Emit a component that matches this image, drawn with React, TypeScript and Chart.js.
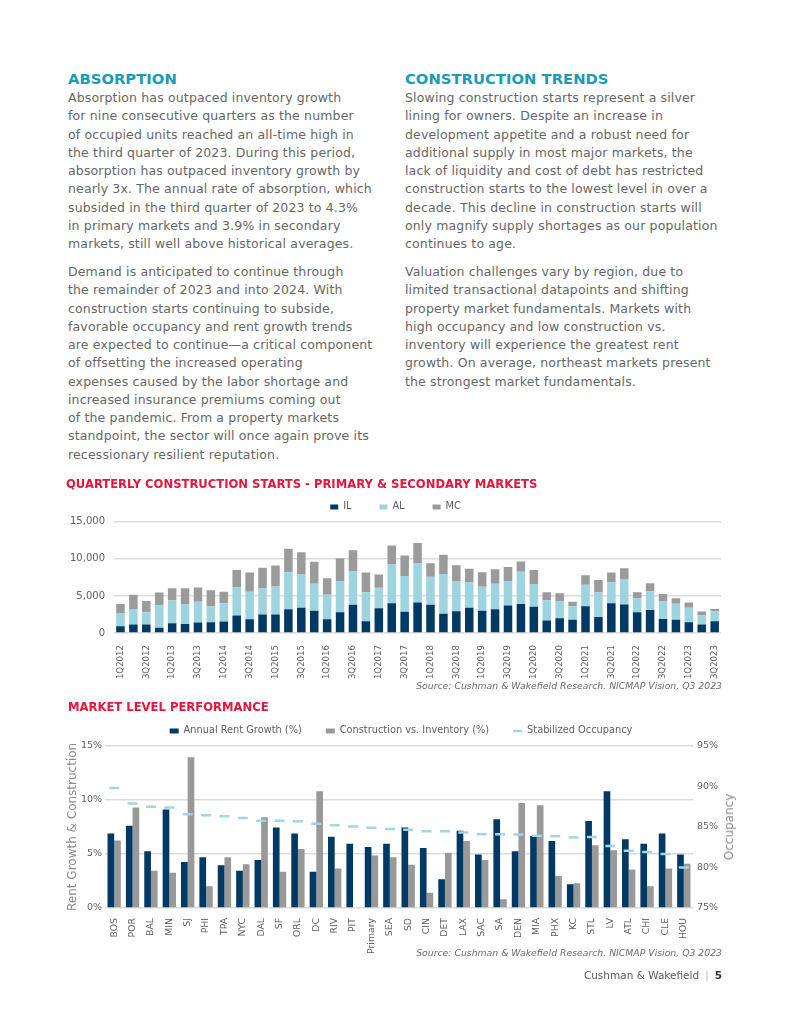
import React, { useEffect, useRef } from 'react';
import { Chart, registerables } from 'chart.js';

Chart.register(...registerables);

const FONT = '"DejaVu Sans", Verdana, sans-serif';
const TEXT = '#5e5e5e';
const NAVY = '#003963';
const LIGHTBLUE = '#9dd4df';
const GRAY = '#9b9b9b';
const GRID = '#dcdcdc';

// ---- Quarterly construction starts ----
const quarters = [
  '1Q2012', '2Q2012', '3Q2012', '4Q2012',
  '1Q2013', '2Q2013', '3Q2013', '4Q2013',
  '1Q2014', '2Q2014', '3Q2014', '4Q2014',
  '1Q2015', '2Q2015', '3Q2015', '4Q2015',
  '1Q2016', '2Q2016', '3Q2016', '4Q2016',
  '1Q2017', '2Q2017', '3Q2017', '4Q2017',
  '1Q2018', '2Q2018', '3Q2018', '4Q2018',
  '1Q2019', '2Q2019', '3Q2019', '4Q2019',
  '1Q2020', '2Q2020', '3Q2020', '4Q2020',
  '1Q2021', '2Q2021', '3Q2021', '4Q2021',
  '1Q2022', '2Q2022', '3Q2022', '4Q2022',
  '1Q2023', '2Q2023', '3Q2023',
];
const ilStarts = [900, 1150, 1150, 700, 1300, 1200, 1400, 1450, 1550, 2350, 1850, 2500, 2500, 3200, 3400, 3000, 1850, 2800, 3800, 1600, 3350, 4000, 2850, 4100, 3800, 2600, 2950, 3400, 3000, 3200, 3700, 3900, 3550, 1700, 2000, 1800, 3600, 2150, 4000, 3850, 2800, 3100, 1900, 1800, 1450, 1150, 1600];
const alStarts = [1800, 2100, 1650, 3050, 3100, 2700, 2800, 2200, 2450, 3800, 3700, 3500, 3850, 5000, 4550, 3650, 3300, 4200, 4500, 3900, 2750, 5250, 4850, 5350, 3800, 5350, 4000, 3400, 3250, 3450, 3300, 4350, 3050, 2700, 2250, 1800, 2900, 3300, 2850, 3450, 1850, 2500, 2350, 2150, 1950, 1250, 1350];
const mcStarts = [1200, 1900, 1500, 1700, 1650, 2150, 1950, 2100, 1550, 2350, 2600, 2800, 2750, 3150, 2950, 2950, 2250, 3100, 2850, 2650, 1800, 2550, 2750, 2700, 1800, 2600, 2200, 1850, 1950, 1950, 1900, 1400, 1900, 1100, 1100, 600, 1300, 1700, 1300, 1450, 850, 1100, 1000, 750, 700, 500, 300];
const startsTicks = [0, 5000, 10000, 15000];

// ---- Market level performance ----
const markets = ['BOS', 'POR', 'BAL', 'MIN', 'SJ', 'PHI', 'TPA', 'NYC', 'DAL', 'SF', 'ORL', 'DC', 'RIV', 'PIT', 'Primary', 'SEA', 'SD', 'CIN', 'DET', 'LAX', 'SAC', 'SA', 'DEN', 'MIA', 'PHX', 'KC', 'STL', 'LV', 'ATL', 'CHI', 'CLE', 'HOU'];
const rentGrowth = [6.9, 7.6, 5.25, 9.1, 4.25, 4.7, 3.95, 3.45, 4.45, 7.45, 6.9, 3.35, 6.6, 5.95, 5.65, 5.95, 7.45, 5.55, 2.65, 7.15, 4.95, 8.2, 5.25, 6.65, 6.2, 2.2, 8.05, 10.8, 6.35, 5.95, 6.9, 4.95];
const constructionVsInventory = [6.25, 9.3, 3.45, 3.25, 13.95, 2.0, 4.7, 4.05, 8.4, 3.35, 5.45, 10.8, 3.65, 0, 4.85, 4.7, 4.0, 1.4, 5.1, 6.2, 4.45, 0.8, 9.7, 9.5, 2.95, 2.3, 5.8, 5.35, 3.55, 2.0, 3.65, 4.1];
const stabilizedOccupancy = [89.8, 87.9, 87.5, 87.4, 86.55, 86.45, 86.3, 86.1, 85.75, 85.75, 85.7, 85.4, 85.2, 85.05, 84.9, 84.75, 84.65, 84.45, 84.45, 84.3, 84.1, 84.1, 84.05, 83.9, 83.85, 83.7, 83.75, 82.65, 82.05, 81.9, 81.65, 80.0];

// ---- Text ----
const absorptionP1 = [
  'Absorption has outpaced inventory growth',
  'for nine consecutive quarters as the number',
  'of occupied units reached an all-time high in',
  'the third quarter of 2023. During this period,',
  'absorption has outpaced inventory growth by',
  'nearly 3x. The annual rate of absorption, which',
  'subsided in the third quarter of 2023 to 4.3%',
  'in primary markets and 3.9% in secondary',
  'markets, still well above historical averages.',
];
const absorptionP2 = [
  'Demand is anticipated to continue through',
  'the remainder of 2023 and into 2024. With',
  'construction starts continuing to subside,',
  'favorable occupancy and rent growth trends',
  'are expected to continue\u2014a critical component',
  'of offsetting the increased operating',
  'expenses caused by the labor shortage and',
  'increased insurance premiums coming out',
  'of the pandemic. From a property markets',
  'standpoint, the sector will once again prove its',
  'recessionary resilient reputation.',
];
const constructionP1 = [
  'Slowing construction starts represent a silver',
  'lining for owners. Despite an increase in',
  'development appetite and a robust need for',
  'additional supply in most major markets, the',
  'lack of liquidity and cost of debt has restricted',
  'construction starts to the lowest level in over a',
  'decade. This decline in construction starts will',
  'only magnify supply shortages as our population',
  'continues to age.',
];
const constructionP2 = [
  'Valuation challenges vary by region, due to',
  'limited transactional datapoints and shifting',
  'property market fundamentals. Markets with',
  'high occupancy and low construction vs.',
  'inventory will experience the greatest rent',
  'growth. On average, northeast markets present',
  'the strongest market fundamentals.',
];
const SOURCE = 'Source: Cushman & Wakefield Research. NICMAP Vision, Q3 2023';

function StartsChart() {
  const ref = useRef<HTMLCanvasElement>(null);
  useEffect(() => {
    if (!ref.current) return;
    const chart = new Chart(ref.current, {
      type: 'bar',
      data: {
        labels: quarters,
        datasets: [
          { label: 'IL', data: ilStarts, backgroundColor: NAVY, borderWidth: 0 },
          { label: 'AL', data: alStarts, backgroundColor: LIGHTBLUE, borderWidth: 0 },
          { label: 'MC', data: mcStarts, backgroundColor: GRAY, borderWidth: 0 },
        ],
      },
      options: {
        animation: false,
        responsive: true,
        maintainAspectRatio: false,
        layout: { padding: 0 },
        datasets: { bar: { categoryPercentage: 1, barPercentage: 0.66 } },
        plugins: {
          legend: {
            position: 'top',
            align: 'center',
            labels: {
              boxWidth: 8,
              boxHeight: 5,
              padding: 28,
              color: TEXT,
              font: { family: FONT, size: 9.8 },
            },
          },
          tooltip: { enabled: false },
        },
        scales: {
          x: {
            stacked: true,
            grid: { display: false },
            border: { display: false },
            ticks: {
              autoSkip: false,
              minRotation: 90,
              maxRotation: 90,
              padding: 4,
              color: TEXT,
              font: { family: FONT, size: 8.6 },
              callback: (_v: any, i: number) => (i % 2 === 0 ? quarters[i] : ''),
            },
            afterFit: (s: any) => { s.height = 62; },
          },
          y: {
            stacked: true,
            min: startsTicks[0],
            max: startsTicks[startsTicks.length - 1],
            afterBuildTicks: (s: any) => { s.ticks = startsTicks.map((v) => ({ value: v })); },
            ticks: {
              padding: 9,
              color: TEXT,
              font: { family: FONT, size: 10 },
              callback: (v: any) => Number(v).toLocaleString('en-US'),
            },
            grid: { color: GRID, lineWidth: 1.5, drawTicks: false },
            border: { display: false },
            afterFit: (s: any) => { s.width = 52; },
          },
        },
      },
    });
    return () => chart.destroy();
  }, []);
  return <canvas ref={ref} />;
}

function MarketChart() {
  const ref = useRef<HTMLCanvasElement>(null);
  useEffect(() => {
    if (!ref.current) return;
    const chart = new Chart(ref.current, {
      type: 'bar',
      data: {
        labels: markets,
        datasets: [
          { label: 'Annual Rent Growth (%)', data: rentGrowth, backgroundColor: NAVY, borderWidth: 0, yAxisID: 'y', pointStyle: 'rect' } as any,
          { label: 'Construction vs. Inventory (%)', data: constructionVsInventory, backgroundColor: '#999999', borderWidth: 0, yAxisID: 'y', pointStyle: 'rect' } as any,
          {
            type: 'line',
            label: 'Stabilized Occupancy',
            data: stabilizedOccupancy,
            yAxisID: 'y1',
            showLine: false,
            pointStyle: 'line',
            pointRadius: 5,
            pointHoverRadius: 5,
            pointBorderWidth: 2.5,
            borderWidth: 2.5,
            pointBorderColor: '#a0d7e2',
            borderColor: '#a0d7e2',
            backgroundColor: '#a0d7e2',
            order: -1,
          } as any,
        ],
      },
      options: {
        animation: false,
        responsive: true,
        maintainAspectRatio: false,
        layout: { padding: 0 },
        datasets: { bar: { categoryPercentage: 0.725, barPercentage: 1 } },
        plugins: {
          legend: {
            position: 'top',
            align: 'center',
            labels: {
              usePointStyle: true,
              pointStyleWidth: 9,
              boxHeight: 5,
              padding: 24,
              color: TEXT,
              font: { family: FONT, size: 9.8 },
              sort: (a: any, b: any) => a.datasetIndex - b.datasetIndex,
            },
          },
          tooltip: { enabled: false },
        },
        scales: {
          x: {
            grid: { display: false },
            border: { display: false },
            ticks: {
              autoSkip: false,
              minRotation: 90,
              maxRotation: 90,
              padding: 2,
              color: TEXT,
              font: { family: FONT, size: 9.3 },
            },
            afterFit: (s: any) => { s.height = 62; },
          },
          y: {
            position: 'left',
            min: 0,
            max: 15,
            ticks: {
              stepSize: 5,
              padding: 3,
              color: TEXT,
              font: { family: FONT, size: 9.5 },
              callback: (v: any) => v + '%',
            },
            grid: { color: GRID, lineWidth: 1.5, drawTicks: false },
            border: { display: false },
            title: {
              display: true,
              text: 'Rent Growth & Construction',
              color: '#8a8a8a',
              font: { family: FONT, size: 12 },
              padding: { top: 4, bottom: 0 },
            },
            afterFit: (s: any) => { s.width = 43; },
          },
          y1: {
            position: 'right',
            min: 75,
            max: 95,
            ticks: {
              stepSize: 5,
              padding: 4,
              color: TEXT,
              font: { family: FONT, size: 9.5 },
              callback: (v: any) => v + '%',
            },
            grid: { display: false, drawTicks: false },
            border: { display: false },
            afterFit: (s: any) => { s.width = 47; },
          },
        },
      },
    });
    return () => chart.destroy();
  }, []);
  return <canvas ref={ref} />;
}

const bodyStyle: React.CSSProperties = {
  position: 'absolute',
  fontFamily: FONT,
  fontSize: 12.5,
  letterSpacing: 0.15,
  lineHeight: '18.25px',
  color: '#666666',
  whiteSpace: 'pre',
  margin: 0,
};
const headStyle: React.CSSProperties = {
  position: 'absolute',
  fontFamily: FONT,
  fontWeight: 'bold',
  fontSize: 14.8,
  lineHeight: '18px',
  color: '#1a9bb6',
  whiteSpace: 'pre',
};
const chartTitleStyle: React.CSSProperties = {
  position: 'absolute',
  fontFamily: FONT,
  fontWeight: 'bold',
  fontSize: 11.6,
  lineHeight: '14px',
  color: '#e2173b',
  whiteSpace: 'pre',
};
const sourceStyle: React.CSSProperties = {
  position: 'absolute',
  right: 791 - 722,
  fontFamily: FONT,
  fontStyle: 'italic',
  fontSize: 9.3,
  lineHeight: '12px',
  color: '#6a6a6a',
  whiteSpace: 'pre',
};

export default function App() {
  return (
    <div style={{ position: 'absolute', left: 0, top: 0, width: 791, height: 1024, background: '#fff', overflow: 'hidden' }}>
      <div style={{ ...headStyle, left: 68, top: 70 }}>ABSORPTION</div>
      <div style={{ ...bodyStyle, left: 68, top: 89 }}>{absorptionP1.join('\n')}</div>
      <div style={{ ...bodyStyle, left: 68, top: 263 }}>{absorptionP2.join('\n')}</div>

      <div style={{ ...headStyle, left: 405, top: 70 }}>CONSTRUCTION TRENDS</div>
      <div style={{ ...bodyStyle, left: 405, top: 89 }}>{constructionP1.join('\n')}</div>
      <div style={{ ...bodyStyle, left: 405, top: 263 }}>{constructionP2.join('\n')}</div>

      <div style={{ position: 'absolute', left: 62, top: 474, width: 667, height: 221 }}>
        <StartsChart />
      </div>
      <div style={{ ...chartTitleStyle, left: 66, top: 477 }}>QUARTERLY CONSTRUCTION STARTS - PRIMARY &amp; SECONDARY MARKETS</div>
      <div style={{ ...sourceStyle, top: 680 }}>{SOURCE}</div>

      <div style={{ position: 'absolute', left: 62, top: 702, width: 678, height: 268 }}>
        <MarketChart />
      </div>
      <div style={{ ...chartTitleStyle, left: 68, top: 700 }}>MARKET LEVEL PERFORMANCE</div>
      <div
        style={{
          position: 'absolute',
          left: 729,
          top: 827,
          transform: 'translate(-50%, -50%) rotate(-90deg)',
          fontFamily: FONT,
          fontSize: 12,
          color: '#8a8a8a',
          whiteSpace: 'nowrap',
          lineHeight: '14px',
        }}
      >
        Occupancy
      </div>
      <div style={{ ...sourceStyle, top: 947 }}>{SOURCE}</div>

      <div
        style={{
          position: 'absolute',
          right: 791 - 722,
          top: 968,
          fontFamily: FONT,
          fontSize: 10.5,
          lineHeight: '14px',
          color: '#5a5a5a',
          whiteSpace: 'pre',
        }}
      >
        Cushman &amp; Wakefield<span style={{ color: '#bdbdbd', margin: '0 6px' }}>|</span>
        <span style={{ fontWeight: 'bold', color: '#333' }}>5</span>
      </div>
    </div>
  );
}
